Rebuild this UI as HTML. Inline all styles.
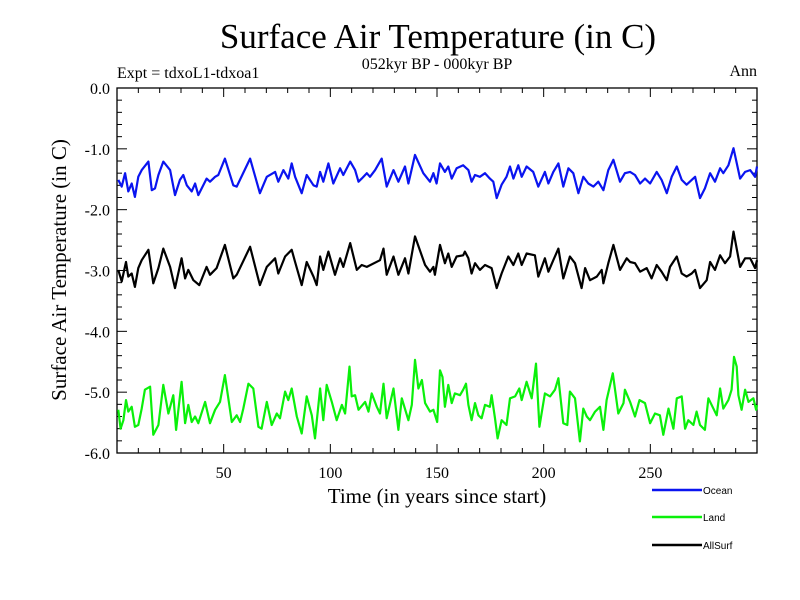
<!DOCTYPE html>
<html><head><meta charset="utf-8"><style>
body{margin:0;background:#fff;}
svg{display:block;font-family:"Liberation Serif",serif;}
</style></head><body>
<svg id="chart" width="800" height="600" viewBox="0 0 800 600">
<rect width="800" height="600" fill="#fff"/>
<text x="438" y="48" font-size="35" text-anchor="middle">Surface Air Temperature (in C)</text>
<text x="437" y="69" font-size="16" text-anchor="middle">052kyr BP - 000kyr BP</text>
<text x="117" y="78" font-size="16">Expt = tdxoL1-tdxoa1</text>
<text x="757" y="76" font-size="16" text-anchor="end">Ann</text>
<text x="0" y="0" font-size="21" text-anchor="middle" transform="translate(66,270) rotate(-90)">Surface Air Temperature (in C)</text>
<text x="437" y="503" font-size="21" text-anchor="middle">Time (in years since start)</text>
<g id="axes"></g>
<g id="series"></g>
<g id="legend"></g>
</svg>
<script>
const xTicks = [50, 100, 150, 200, 250];
const yTicks = [0, -1, -2, -3, -4, -5, -6];
const yTickLabels = ["0.0", "-1.0", "-2.0", "-3.0", "-4.0", "-5.0", "-6.0"];
const seriesNames = ["Ocean", "Land", "AllSurf"];

const oceanYears = [0.6,2.2,3.8,5.3,6.9,8.4,10,11.6,14.7,16.3,17.8,19.4,21.7,24.9,27.2,29.5,31.1,32.7,35,36.6,38.1,42,43.6,46,47.5,50.6,54.5,56.1,62.4,67,70.2,74.1,75.6,78,80.3,81.9,83.5,86.6,88.9,92.1,93.6,95.2,96.7,99.1,101.4,104.6,106.1,109.3,111.6,113.2,114.7,117.1,118.6,121,124.1,126.4,129.6,131.9,135,136.6,139.7,143.6,146.7,148.3,149.8,151.4,153.7,155.3,156.9,159.2,162.3,164.7,166.2,167.8,170.1,172.5,174.8,176.4,178,180.3,182.6,184.2,185.8,188.1,189.7,192,195.1,197.5,200.6,202.2,204.5,206.9,209.2,211.6,213.9,216.3,218.6,220.9,223.3,225.6,228,230.3,232.7,235.8,238.1,240.5,242.8,245.2,247.5,249.9,253,255.3,257.7,260,262.4,264.7,267,269.4,271,273.3,275.6,278,280.3,282.7,284.2,286.6,289,292.1,294.4,296.8,299.1,300];
const oceanValues = [-1.51,-1.62,-1.40,-1.70,-1.57,-1.79,-1.46,-1.35,-1.21,-1.68,-1.65,-1.43,-1.21,-1.35,-1.76,-1.51,-1.43,-1.60,-1.70,-1.57,-1.76,-1.49,-1.54,-1.46,-1.43,-1.16,-1.60,-1.62,-1.16,-1.73,-1.46,-1.38,-1.54,-1.35,-1.49,-1.24,-1.46,-1.73,-1.43,-1.60,-1.62,-1.38,-1.54,-1.24,-1.57,-1.32,-1.43,-1.21,-1.35,-1.54,-1.49,-1.40,-1.46,-1.35,-1.16,-1.62,-1.35,-1.54,-1.29,-1.57,-1.10,-1.40,-1.54,-1.40,-1.57,-1.24,-1.38,-1.29,-1.49,-1.32,-1.27,-1.35,-1.54,-1.43,-1.46,-1.40,-1.49,-1.54,-1.81,-1.59,-1.46,-1.29,-1.49,-1.27,-1.46,-1.29,-1.38,-1.62,-1.38,-1.57,-1.38,-1.24,-1.62,-1.32,-1.40,-1.73,-1.46,-1.57,-1.62,-1.54,-1.68,-1.35,-1.18,-1.54,-1.40,-1.38,-1.43,-1.57,-1.49,-1.57,-1.38,-1.51,-1.73,-1.46,-1.29,-1.51,-1.59,-1.51,-1.46,-1.81,-1.65,-1.40,-1.54,-1.32,-1.40,-1.27,-0.99,-1.49,-1.38,-1.35,-1.46,-1.29];

const allYears = [0.6,2.2,4.2,5.3,6.9,8.4,10,11.6,14.7,17,19.4,21.7,24.9,27.2,30.3,31.9,33.4,35.8,38.6,42,43.6,46.7,50.6,54.5,56.1,62.4,67,70.2,74.1,75.6,78.8,81.9,83.5,86.6,88.9,92.1,93.6,95.2,96.7,99.1,102.2,104.6,106.1,109.3,112.4,114.7,117.1,123.3,124.9,126.4,129.6,131.9,135,136.6,139.7,144.4,146.7,148.3,149.0,151.4,153.7,155.3,156.9,159.2,162.3,163.1,164.7,166.2,167.8,170.1,172.5,175.6,178,180.3,183.4,185.8,188.1,189.7,192,195.9,197.5,200.6,202.2,204.5,206.9,209.2,212.3,214.7,217.8,219.4,221.7,224.9,227.2,228,230.3,232.7,235.8,238.9,240.5,242.8,245.2,248.3,250.6,253,255.3,257.7,259.2,262.4,264.7,267,269.4,271,273.3,276.4,278,280.3,282.7,285,287.4,289,292.1,294.4,296.8,299.1,300];
const allValues = [-2.99,-3.18,-2.86,-3.10,-3.05,-3.27,-2.96,-2.83,-2.66,-3.21,-2.96,-2.64,-2.94,-3.29,-2.80,-3.13,-2.99,-3.16,-3.24,-2.94,-3.07,-2.96,-2.58,-3.13,-3.07,-2.61,-3.24,-2.94,-2.80,-3.05,-2.77,-2.66,-2.86,-3.24,-2.86,-3.10,-3.24,-2.77,-2.99,-2.69,-3.07,-2.80,-2.94,-2.55,-2.99,-2.91,-2.94,-2.83,-2.64,-3.07,-2.77,-3.07,-2.80,-3.05,-2.44,-2.91,-3.02,-2.94,-3.07,-2.58,-2.88,-2.72,-2.94,-2.77,-2.75,-2.69,-2.80,-3.05,-2.88,-2.99,-2.91,-2.96,-3.29,-3.05,-2.77,-2.91,-2.72,-2.91,-2.72,-2.75,-3.10,-2.80,-3.02,-2.83,-2.64,-3.13,-2.77,-2.88,-3.29,-2.96,-3.16,-3.10,-2.99,-3.21,-2.88,-2.58,-2.99,-2.80,-2.86,-2.88,-3.02,-2.96,-3.13,-2.91,-3.02,-3.16,-2.94,-2.77,-3.05,-3.10,-3.05,-2.99,-3.29,-3.16,-2.86,-2.99,-2.75,-2.88,-2.77,-2.36,-2.94,-2.80,-2.80,-2.96,-2.83];

const landYears = [0.6,1.7,3,4.2,5.3,6.9,8.4,10,11.6,13.1,15.5,17,19.4,21.7,24.1,26.4,27.7,30.3,31.9,33.4,35,36.6,38.1,41.3,43.6,46,48.3,50.6,53.8,56.1,57.7,59.2,61.6,63.9,66.3,67.8,70.2,72.5,74.9,76.4,78.8,80.3,81.9,84.3,86.6,88.9,91.3,92.8,95.2,96.7,98.3,100.7,103,105.4,106.9,109,110,111.6,113.2,116.3,117.9,119.4,121.8,123.3,124.9,126.4,129.6,131.9,133.5,136.6,138.2,139.7,141.3,142.9,144.4,146.7,148.3,150.1,151.4,152.6,153.7,155.3,156.9,158.4,160.8,162.3,163.6,164.7,166.2,167.8,169.4,170.9,172.5,174.8,175.6,177.2,178.4,180.3,182.6,184.2,186.6,188.6,189.7,192,194.4,196.4,198,200.6,203,205.3,206.9,209.2,211.1,212.3,214.7,217,218.6,220.2,221.7,224.1,226.4,228,229.5,232.4,235,237.4,238.1,240.5,242.8,244.9,247.5,249.9,252.2,254.5,256.1,258.5,260.8,262.4,264.7,266.3,267.8,270.2,271.7,273.3,275.6,277.2,281.1,282.7,284.2,286.6,288.1,289.2,290.5,291.3,292.8,294.4,296,298.3,299.6,300];
const landValues = [-5.29,-5.60,-5.46,-5.13,-5.32,-5.24,-5.57,-5.54,-5.27,-4.96,-4.91,-5.70,-5.54,-4.88,-5.35,-5.05,-5.62,-4.83,-5.51,-5.21,-5.49,-5.40,-5.51,-5.16,-5.51,-5.29,-5.16,-4.72,-5.49,-5.38,-5.49,-5.27,-4.86,-4.94,-5.57,-5.60,-5.16,-5.54,-5.35,-5.43,-4.99,-5.13,-4.94,-5.40,-5.68,-5.07,-5.38,-5.76,-4.94,-5.46,-4.88,-5.16,-5.46,-5.21,-5.35,-4.58,-5.07,-5.05,-5.29,-5.16,-5.32,-5.02,-5.24,-5.35,-4.86,-5.43,-4.94,-5.62,-5.10,-5.46,-5.21,-4.47,-4.94,-4.80,-5.18,-5.32,-5.29,-5.49,-4.64,-4.75,-5.24,-4.88,-5.18,-5.02,-5.05,-4.96,-4.86,-5.21,-5.46,-5.18,-5.38,-5.43,-5.21,-5.24,-5.05,-5.43,-5.76,-5.46,-5.54,-5.10,-5.07,-4.94,-5.13,-4.83,-5.10,-4.53,-5.57,-5.02,-5.07,-4.96,-4.77,-5.51,-5.54,-4.99,-5.10,-5.81,-5.27,-5.40,-5.46,-5.32,-5.24,-5.62,-5.13,-4.69,-5.35,-5.18,-4.96,-5.16,-5.40,-5.13,-5.18,-5.51,-5.35,-5.38,-5.70,-5.27,-5.60,-5.10,-5.07,-5.60,-5.46,-5.54,-5.32,-5.54,-5.62,-5.10,-5.38,-4.94,-5.27,-5.13,-4.96,-4.42,-4.58,-5.05,-5.29,-4.96,-5.16,-5.10,-5.29,-5.21];

const NS = "http://www.w3.org/2000/svg";
const X0 = 117, X1 = 757, Y0 = 88, Y1 = 453;
function xs(v){ return X0 + (v - 0) / 300 * (X1 - X0); }
function ys(v){ return Y0 + (0 - v) / 6 * (Y1 - Y0); }
function mk(tag, attrs, parent){ const e = document.createElementNS(NS, tag); for (const k in attrs) e.setAttribute(k, attrs[k]); parent.appendChild(e); return e; }

const axes = document.getElementById('axes');
const frame = mk('rect', {x:X0, y:Y0, width:X1-X0, height:Y1-Y0, fill:'none', stroke:'#000', 'stroke-width':1.3}, axes);


for (let t = 10; t < 300; t += 10) {
  const major = t % 50 === 0;
  const len = major ? 9 : 5;
  const tb = mk('line', {x1:xs(t), x2:xs(t), y1:Y1, y2:Y1-len, stroke:'#000', 'stroke-width':1}, axes);
  
  
  const tt = mk('line', {x1:xs(t), x2:xs(t), y1:Y0, y2:Y0+len, stroke:'#000', 'stroke-width':1}, axes);
  
  
}
xTicks.forEach(t => {
  const lb = mk('text', {x:xs(t), y:478, 'font-size':16, 'text-anchor':'middle'}, axes);
  lb.textContent = String(t);
  
  
});
for (let i = 0; i <= 30; i++) {
  const v = -i * 0.2;
  const major = i % 5 === 0;
  const len = major ? 10 : 5;
  const tl = mk('line', {x1:X0, x2:X0+len, y1:ys(v), y2:ys(v), stroke:'#000', 'stroke-width':1}, axes);
  
  
  const tr = mk('line', {x1:X1, x2:X1-len, y1:ys(v), y2:ys(v), stroke:'#000', 'stroke-width':1}, axes);
  
  
}
yTicks.forEach((v, i) => {
  const lb = mk('text', {x:110, y:ys(v)+6, 'font-size':16, 'text-anchor':'end'}, axes);
  lb.textContent = yTickLabels[i];
  
  
});

const sg = document.getElementById('series');
function drawLine(years, vals, color, name){
  let d = '';
  years.forEach((y, i) => { d += (i ? 'L' : 'M') + xs(y).toFixed(1) + ',' + ys(vals[i]).toFixed(1); });
  const p = mk('path', {d:d, fill:'none', stroke:color, 'stroke-width':2.2, 'stroke-linejoin':'round'}, sg);
  
  
}
drawLine(oceanYears, oceanValues, '#0a14f0', 'ocean-line');
drawLine(allYears, allValues, '#000', 'allsurf-line');
drawLine(landYears, landValues, '#0af00a', 'land-line');

const lg = document.getElementById('legend');
const lcolors = ['#0a14f0', '#0af00a', '#000'];
const lys = [490, 517, 545];
seriesNames.forEach((n, i) => {
  const ln = mk('line', {x1:652, x2:702, y1:lys[i], y2:lys[i], stroke:lcolors[i], 'stroke-width':2.5}, lg);
  
  
  const tx = mk('text', {x:703, y:lys[i]+4, 'font-size':10, 'font-family':'Liberation Sans, sans-serif'}, lg);
  tx.textContent = n;
  
  
});
</script>
</body></html>
